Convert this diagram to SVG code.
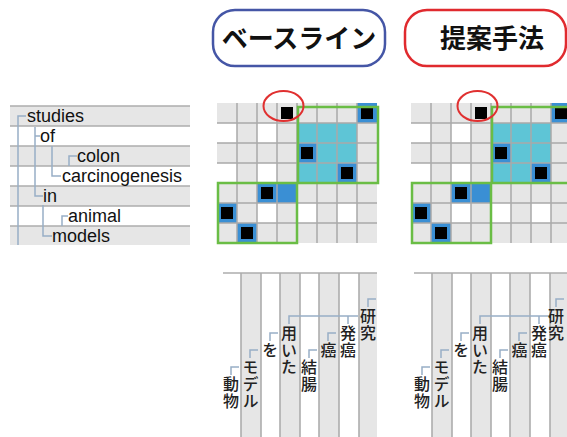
<svg xmlns="http://www.w3.org/2000/svg" width="567" height="437" viewBox="0 0 567 437">
<style>
.hdr{font-family:"Noto Sans CJK JP","Noto Sans",sans-serif;font-size:26px;font-weight:bold;fill:#111;text-anchor:middle}
.en{font-family:"Liberation Sans",Arial,sans-serif;font-size:18px;fill:#111}
.ja{font-family:"Noto Sans CJK JP",sans-serif;font-size:16px;font-weight:500;fill:#222;writing-mode:vertical-rl;letter-spacing:1px}
.rowfill{fill:#e6e6e6}
.rowline{stroke:#adadad;stroke-width:1.6;fill:none}
.conn{stroke:#98aec6;stroke-width:1.5;fill:none}
.cell{fill:#e6e6e6}
.wc{fill:#fff}
.cy{fill:#5ec5d6}
.bl{fill:#3a8fd4}
.bk{fill:#000}
.gl{stroke:#a9a9a9;stroke-width:1.5;fill:none}
.grn{stroke:#6abd45;stroke-width:2.5;fill:none}
.red{stroke:#e03030;stroke-width:2;fill:none}
</style>

<g id="header-baseline">
<rect x="213" y="10" width="172" height="56" rx="22" fill="#fff" stroke="#4556a6" stroke-width="2.5"/>
<text class="hdr" x="299" y="48">ベースライン</text>
</g>
<g id="header-proposed">
<rect x="405" y="10" width="161" height="56" rx="22" fill="#fff" stroke="#e02a2e" stroke-width="2.5"/>
<text class="hdr" x="492" y="48">提案手法</text>
</g>

<g id="en-tree">
<rect class="rowfill" x="10" y="106" width="180" height="20"/>
<rect class="rowfill" x="10" y="146" width="180" height="20"/>
<rect class="rowfill" x="10" y="186" width="180" height="20"/>
<rect class="rowfill" x="10" y="226" width="180" height="19"/>
<path class="rowline" d="M10,106H190M10,126H190M10,146H190M10,166H190M10,186H190M10,206H190M10,226H190"/>
<path class="conn" d="M26,116H18V245M40,136H35M35,127V196H43M61,176H52V146M77,156H69V166M52,236H43V205M68,216H62V226"/>
<text class="en" x="27" y="122">studies</text>
<text class="en" x="40" y="142">of</text>
<text class="en" x="77" y="162">colon</text>
<text class="en" x="62" y="182">carcinogenesis</text>
<text class="en" x="43" y="202">in</text>
<text class="en" x="68" y="222">animal</text>
<text class="en" x="52" y="242">models</text>
</g>

<g id="matrix-baseline">
<rect class="cell" x="217" y="103" width="160" height="140"/>
<rect class="wc" x="217" y="123" width="20" height="20"/><rect class="wc" x="257" y="123" width="20" height="20"/>
<rect class="wc" x="217" y="163" width="20" height="20"/><rect class="wc" x="257" y="163" width="20" height="20"/>
<rect class="wc" x="257" y="203" width="20" height="20"/><rect class="wc" x="297" y="203" width="20" height="20"/><rect class="wc" x="337" y="203" width="20" height="20"/>
<rect class="cy" x="297" y="123" width="60" height="20"/>
<rect class="cy" x="317" y="143" width="40" height="20"/>
<rect class="cy" x="297" y="163" width="40" height="20"/>
<rect class="bl" x="357" y="103" width="20" height="20"/>
<rect class="bl" x="297" y="143" width="20" height="20"/>
<rect class="bl" x="337" y="163" width="20" height="20"/>
<rect class="bl" x="257" y="183" width="40" height="20"/>
<rect class="bl" x="217" y="203" width="20" height="20"/>
<rect class="bl" x="237" y="223" width="20" height="20"/>
<path class="gl" d="M237,103V243M257,103V243M277,103V243M297,103V243M317,103V243M337,103V243M357,103V243M217,123H377M217,143H377M217,163H377M217,183H377M217,203H377M217,223H377"/>
<rect class="bk" x="281" y="107" width="12" height="12"/>
<rect class="bk" x="361" y="107" width="12" height="12"/>
<rect class="bk" x="301" y="147" width="12" height="12"/>
<rect class="bk" x="341" y="167" width="12" height="12"/>
<rect class="bk" x="261" y="187" width="12" height="12"/>
<rect class="bk" x="221" y="207" width="12" height="12"/>
<rect class="bk" x="241" y="227" width="12" height="12"/>
<rect class="grn" x="298" y="107" width="80" height="76"/>
<rect class="grn" x="218" y="183" width="79" height="60"/>
<ellipse class="red" cx="283.5" cy="106" rx="20" ry="15"/>
</g>

<g id="matrix-proposed">
<rect class="cell" x="411" y="103" width="160" height="140"/>
<rect class="wc" x="411" y="123" width="20" height="20"/><rect class="wc" x="451" y="123" width="20" height="20"/>
<rect class="wc" x="411" y="163" width="20" height="20"/><rect class="wc" x="451" y="163" width="20" height="20"/>
<rect class="wc" x="451" y="203" width="20" height="20"/><rect class="wc" x="491" y="203" width="20" height="20"/><rect class="wc" x="531" y="203" width="20" height="20"/>
<rect class="cy" x="491" y="123" width="60" height="20"/>
<rect class="cy" x="511" y="143" width="40" height="20"/>
<rect class="cy" x="491" y="163" width="40" height="20"/>
<rect class="bl" x="551" y="103" width="20" height="20"/>
<rect class="bl" x="491" y="143" width="20" height="20"/>
<rect class="bl" x="531" y="163" width="20" height="20"/>
<rect class="bl" x="451" y="183" width="40" height="20"/>
<rect class="bl" x="411" y="203" width="20" height="20"/>
<rect class="bl" x="431" y="223" width="20" height="20"/>
<path class="gl" d="M431,103V243M451,103V243M471,103V243M491,103V243M511,103V243M531,103V243M551,103V243M411,123H571M411,143H571M411,163H571M411,183H571M411,203H571M411,223H571"/>
<rect class="bk" x="475" y="107" width="12" height="12"/>
<rect class="bk" x="555" y="107" width="12" height="12"/>
<rect class="bk" x="495" y="147" width="12" height="12"/>
<rect class="bk" x="535" y="167" width="12" height="12"/>
<rect class="bk" x="455" y="187" width="12" height="12"/>
<rect class="bk" x="415" y="207" width="12" height="12"/>
<rect class="bk" x="435" y="227" width="12" height="12"/>
<rect class="grn" x="492" y="107" width="80" height="76"/>
<rect class="grn" x="412" y="183" width="79" height="60"/>
<ellipse class="red" cx="477.5" cy="106" rx="20" ry="15"/>
</g>

<g id="ja-tree-baseline">
<rect class="rowfill" x="241" y="273" width="20" height="164"/>
<rect class="rowfill" x="280" y="273" width="20" height="164"/>
<rect class="rowfill" x="319" y="273" width="20" height="164"/>
<rect class="rowfill" x="359" y="273" width="18" height="164"/>
<path class="rowline" d="M223,273H377M241,273V437M261,273V437M280,273V437M300,273V437M319,273V437M339,273V437M359,273V437"/>
<path class="conn" d="M239,367H231V375M258,350H250V358M278,333H270V341M358,316H289V324M317,350H309V358M336,333H328V341M348,316V324M376,299H368V307"/>
<text class="ja" x="231" y="376">動物</text>
<text class="ja" x="250.5" y="359">モデル</text>
<text class="ja" x="270" y="342">を</text>
<text class="ja" x="289" y="325">用いた</text>
<text class="ja" x="309" y="359">結腸</text>
<text class="ja" x="328.5" y="342">癌</text>
<text class="ja" x="348" y="325">発癌</text>
<text class="ja" x="368" y="308">研究</text>
</g>

<g id="ja-tree-proposed">
<rect class="rowfill" x="432" y="273" width="20" height="164"/>
<rect class="rowfill" x="471" y="273" width="20" height="164"/>
<rect class="rowfill" x="510" y="273" width="20" height="164"/>
<rect class="rowfill" x="550" y="273" width="17" height="164"/>
<path class="rowline" d="M414,273H567M432,273V437M452,273V437M471,273V437M491,273V437M510,273V437M530,273V437M550,273V437"/>
<path class="conn" d="M430,367H422V375M449,350H441V358M469,333H461V341M549,316H480V324M508,350H500V358M527,333H519V341M539,316V324M564,299H556V307"/>
<text class="ja" x="422" y="376">動物</text>
<text class="ja" x="441.5" y="359">モデル</text>
<text class="ja" x="461" y="342">を</text>
<text class="ja" x="480" y="325">用いた</text>
<text class="ja" x="500" y="359">結腸</text>
<text class="ja" x="519.5" y="342">癌</text>
<text class="ja" x="539" y="325">発癌</text>
<text class="ja" x="556" y="308">研究</text>
</g>
</svg>
